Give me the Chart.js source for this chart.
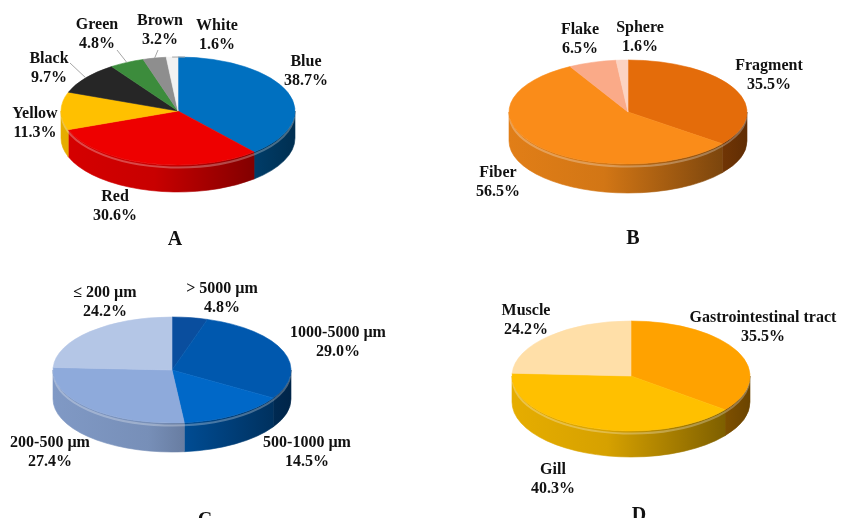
<!DOCTYPE html>
<html>
<head>
<meta charset="utf-8">
<script src="https://cdn.jsdelivr.net/npm/chart.js@4.4.1/dist/chart.umd.min.js"></script>
<style>
  html, body { margin: 0; padding: 0; background: #fff; }
  #page { position: relative; width: 841px; height: 518px; overflow: hidden; background: #fff; }
  #page canvas { position: absolute; }
</style>
</head>
<body>
<div id="page"></div>
<script>
// A – colour of the particles
const colourCategories = ['Blue', 'Red', 'Yellow', 'Black', 'Green', 'Brown', 'White'];
const colourShares = [38.7, 30.6, 11.3, 9.7, 4.8, 3.2, 1.6];

// B – particle shape
const shapeCategories = ['Fragment', 'Fiber', 'Flake', 'Sphere'];
const shapeShares = [35.5, 56.5, 6.5, 1.6];

// C – particle size
const sizeCategories = ['> 5000 µm', '1000-5000 µm', '500-1000 µm', '200-500 µm', '≤ 200 µm'];
const sizeShares = [4.8, 29.0, 14.5, 27.4, 24.2];

// D – tissue where particles were found
const tissueCategories = ['Gastrointestinal tract', 'Gill', 'Muscle'];
const tissueShares = [35.5, 40.3, 24.2];

const panelLetters = ['A', 'B', 'C', 'D'];

// Layout of each 3-D pie: centre of the top face, ellipse radii, rim depth,
// label offsets from the centre, optional leader-line starts, letter position.
const panels = [
  {
    letter: panelLetters[0], labels: colourCategories, values: colourShares,
    colors: ['#0070C0', '#EE0000', '#FFC000', '#262626', '#3C8C3C', '#8E8E8E', '#F2F2F2'],
    center: [178, 111], rx: 117, ry: 54, depth: 27,
    labelAt: [[128, -49], [-63, 86], [-143, 3], [-129, -52], [-81, -86], [-18, -90], [39, -85]],
    leaderFrom: [null, null, null, [-108, -48], [-61, -61], [-20, -61], [7, -54]],
    letterAt: [175, 240]
  },
  {
    letter: panelLetters[1], labels: shapeCategories, values: shapeShares,
    colors: ['#E46C0A', '#FA8C19', '#FAAA88', '#FCD3C2'],
    center: [628, 112], rx: 119, ry: 52, depth: 29,
    labelAt: [[141, -46], [-130, 61], [-48, -82], [12, -84]],
    leaderFrom: [null, null, null, null],
    letterAt: [633, 239]
  },
  {
    letter: panelLetters[2], labels: sizeCategories, values: sizeShares,
    colors: ['#0A4E9E', '#0058AE', '#0068C8', '#8EAADB', '#B4C6E6'],
    center: [172, 370], rx: 119, ry: 53, depth: 29,
    labelAt: [[50, -81], [166, -37], [135, 73], [-122, 73], [-67, -77]],
    leaderFrom: [null, null, null, null, null],
    letterAt: [205, 521]
  },
  {
    letter: panelLetters[3], labels: tissueCategories, values: tissueShares,
    colors: ['#FFA200', '#FFC000', '#FFDFA8'],
    center: [631, 376], rx: 119, ry: 55, depth: 26,
    labelAt: [[132, -58], [-78, 94], [-105, -65]],
    leaderFrom: [null, null, null],
    letterAt: [639, 516]
  }
];

const CANVAS_W = 440, CANVAS_H = 300;
const LABEL_FONT = 'bold 16px "Liberation Serif", "Times New Roman", serif';
const LETTER_FONT = 'bold 20px "Liberation Serif", "Times New Roman", serif';

function shade(hex, f) {
  const n = parseInt(hex.slice(1), 16);
  const r = (n >> 16) & 255, g = (n >> 8) & 255, b = n & 255;
  return `rgb(${Math.round(r * f)},${Math.round(g * f)},${Math.round(b * f)})`;
}

// Draws the rim under each slice, squashes the pie into an ellipse and
// writes the category labels.
function makePie3d(p) {
  return {
    id: 'pie3d',
    beforeDatasetsDraw(chart) {
      const ctx = chart.ctx;
      const arcs = chart.getDatasetMeta(0).data;
      const cx = arcs[0].x, cy = arcs[0].y;
      const rx = p.rx, ry = p.ry, d = p.depth;
      const colors = chart.data.datasets[0].backgroundColor;
      arcs.forEach((arc, i) => {
        const a = Math.max(arc.startAngle, 0);
        const b = Math.min(arc.endAngle, Math.PI);
        if (b <= a) return;
        const g = ctx.createLinearGradient(cx - rx, 0, cx + rx, 0);
        [[0, 0.9], [0.4, 0.84], [0.72, 0.62], [1, 0.42]]
          .forEach(([t, f]) => g.addColorStop(t, shade(colors[i], f)));
        ctx.beginPath();
        ctx.ellipse(cx, cy, rx, ry, 0, a, b, false);
        ctx.ellipse(cx, cy + d, rx, ry, 0, b, a, true);
        ctx.closePath();
        ctx.fillStyle = g;
        ctx.fill();
        ctx.strokeStyle = g;
        ctx.lineWidth = 0.6;
        ctx.stroke();
      });
      // light rim just under the edge of the top face
      ctx.save();
      ctx.beginPath();
      ctx.ellipse(cx, cy + 2.5, rx - 0.5, ry, 0, 0.02 * Math.PI, 0.98 * Math.PI, false);
      ctx.strokeStyle = 'rgba(255,255,255,0.28)';
      ctx.lineWidth = 2;
      ctx.stroke();
      ctx.restore();

      ctx.save();
      ctx.translate(cx, cy);
      ctx.scale(1, ry / rx);
      ctx.translate(-cx, -cy);
    },
    afterDatasetsDraw(chart) {
      const ctx = chart.ctx;
      ctx.restore();
      const arcs = chart.getDatasetMeta(0).data;
      const cx = arcs[0].x, cy = arcs[0].y;
      const values = chart.data.datasets[0].data;
      const names = chart.data.labels;

      // leader lines from small-slice labels to their slices
      ctx.save();
      ctx.strokeStyle = '#A6A6A6';
      ctx.lineWidth = 1;
      arcs.forEach((arc, i) => {
        const from = p.leaderFrom[i];
        if (!from) return;
        const mid = (arc.startAngle + arc.endAngle) / 2;
        ctx.beginPath();
        ctx.moveTo(cx + from[0], cy + from[1]);
        ctx.lineTo(cx + p.rx * Math.cos(mid), cy + p.ry * Math.sin(mid));
        ctx.stroke();
      });
      ctx.restore();

      ctx.save();
      ctx.fillStyle = '#111';
      ctx.font = LABEL_FONT;
      ctx.textAlign = 'center';
      ctx.textBaseline = 'middle';
      names.forEach((name, i) => {
        const [dx, dy] = p.labelAt[i];
        ctx.fillText(name, cx + dx, cy + dy);
        ctx.fillText(values[i].toFixed(1) + '%', cx + dx, cy + dy + 19);
      });
      ctx.font = LETTER_FONT;
      ctx.fillText(p.letter, cx + p.letterAt[0] - p.center[0], cy + p.letterAt[1] - p.center[1]);
      ctx.restore();
    }
  };
}

const page = document.getElementById('page');
panels.forEach(p => {
  const canvas = document.createElement('canvas');
  canvas.width = CANVAS_W;
  canvas.height = CANVAS_H;
  canvas.style.width = CANVAS_W + 'px';
  canvas.style.height = CANVAS_H + 'px';
  canvas.style.left = (p.center[0] - CANVAS_W / 2) + 'px';
  canvas.style.top = (p.center[1] - CANVAS_H / 2) + 'px';
  page.appendChild(canvas);

  new Chart(canvas, {
    type: 'pie',
    data: {
      labels: p.labels,
      datasets: [{
        data: p.values,
        backgroundColor: p.colors,
        borderColor: p.colors,
        borderWidth: 0.8,
        radius: p.rx,
        clip: false
      }]
    },
    options: {
      responsive: false,
      devicePixelRatio: 1,
      animation: false,
      events: [],
      layout: { padding: 0 },
      plugins: { legend: { display: false }, tooltip: { enabled: false } }
    },
    plugins: [makePie3d(p)]
  });
});
</script>
</body>
</html>
